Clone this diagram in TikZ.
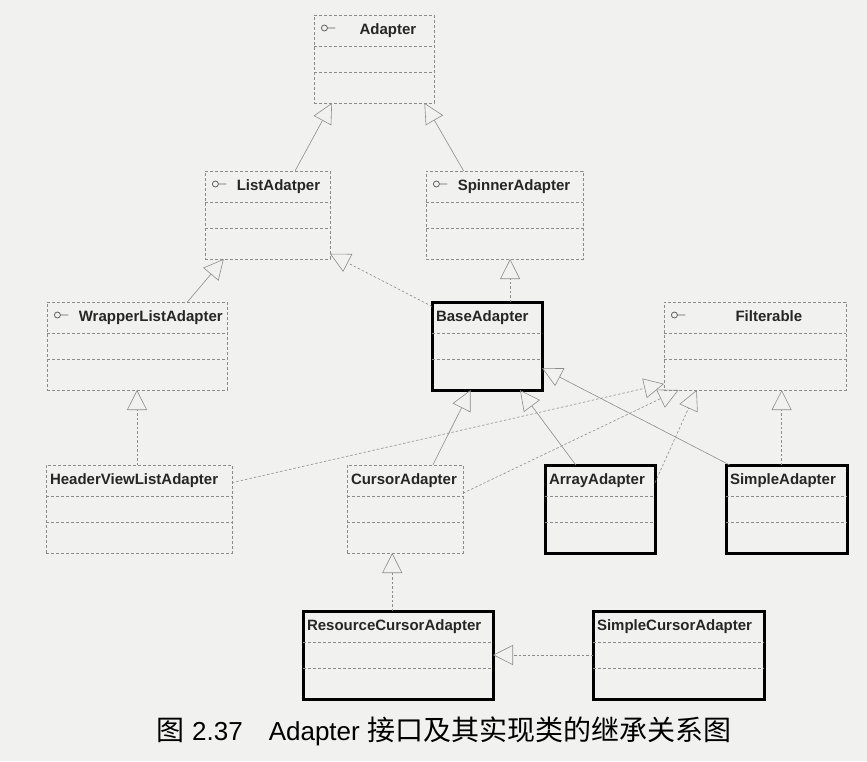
\documentclass[tikz,border=0pt]{standalone}
\usepackage{fontspec}
\setmainfont{Liberation Sans}
\newfontfamily\cjk{Noto Sans CJK SC}
\usetikzlibrary{arrows.meta,calc}
\definecolor{paper}{RGB}{241,241,239}
\definecolor{edge}{RGB}{140,140,140}
\newcommand{\iface}{\hspace{3pt}\tikz[baseline=0pt]\draw[solid,edge!70!black,line width=0.8pt] (0pt,6pt) circle (3pt) (3pt,6pt) -- (11pt,6pt);\hspace{10pt}}
\begin{document}
\begin{tikzpicture}[x=1pt,y=-1pt,
  box/.style={draw=edge,densely dashed,line width=0.6pt,anchor=north west,inner xsep=4pt,inner ysep=0pt,outer sep=0pt,
    text height=19pt,text depth=69pt,align=left,font=\bfseries\fontsize{15}{18}\selectfont,text=black!85},
  cls/.style={box,draw=black,solid,line width=3pt},
  extends/.style={draw=edge,line width=0.6pt,-{Triangle[open,length=20pt,width=20pt]}},
  implements/.style={extends,dash pattern=on 2.5pt off 2pt}]
  \fill[paper] (0,0) rectangle (867,761);
  \node[box,text width=112pt] (adapter) at (314,15) {\iface\hfill Adapter\hfill\null};
  \node[box,text width=117pt] (list) at (205,171) {\iface ListAdatper};
  \node[box,text width=149pt] (spinner) at (426,171) {\iface SpinnerAdapter};
  \node[box,text width=172pt] (wrapper) at (47,302) {\iface WrapperListAdapter};
  \node[cls,text width=102pt] (base) at (432,302) {BaseAdapter};
  \node[box,text width=174pt] (filterable) at (664,302) {\iface\hfill Filterable\hfill\null};
  \node[box,text width=178pt] (header) at (46,465) {HeaderViewListAdapter};
  \node[box,text width=108pt] (cursor) at (347,465) {CursorAdapter};
  \node[cls,text width=102pt] (array) at (545,465) {ArrayAdapter};
  \node[cls,text width=113pt] (simple) at (726,465) {SimpleAdapter};
  \node[cls,text width=182pt] (resource) at (303,611) {ResourceCursorAdapter};
  \node[cls,text width=163pt] (simplecursor) at (593,611) {SimpleCursorAdapter};
  \foreach \n in {adapter,list,spinner,wrapper,base,filterable,header,cursor,array,simple,resource,simplecursor}
  \foreach \f in {0.35,0.65}
  \draw[edge,densely dashed,line width=0.6pt] ($(\n.north west)!\f!(\n.south west)$) -- ($(\n.north east)!\f!(\n.south east)$);
  % inheritance
  \draw[extends] ($(list.north west)!0.72!(list.north east)$) -- ($(adapter.south west)!0.15!(adapter.south east)$);
  \draw[extends] ($(spinner.north west)!0.24!(spinner.north east)$) -- ($(adapter.south west)!0.92!(adapter.south east)$);
  \draw[extends] ($(wrapper.north west)!0.78!(wrapper.north east)$) -- ($(list.south west)!0.15!(list.south east)$);
  \draw[implements] ($(base.north west)!0.05!(base.south west)$) -- ($(list.north east)!0.94!(list.south east)$);
  \draw[implements] ($(base.north west)!0.71!(base.north east)$) coordinate (b1) -- (b1 |- spinner.south);
  \draw[implements] (header.north -| wrapper.south) -- (wrapper.south);
  \draw[implements] ($(header.north east)!0.2!(header.south east)$) -- ($(filterable.north west)!0.93!(filterable.south west)$);
  \draw[extends] ($(cursor.north west)!0.74!(cursor.north east)$) -- ($(base.south west)!0.35!(base.south east)$);
  \draw[implements] ($(cursor.north east)!0.32!(cursor.south east)$) -- ($(filterable.south west)!0.08!(filterable.south east)$);
  \draw[extends] ($(array.north west)!0.28!(array.north east)$) -- ($(base.south west)!0.8!(base.south east)$);
  \draw[implements] ($(array.north east)!0.2!(array.south east)$) -- ($(filterable.south west)!0.18!(filterable.south east)$);
  \draw[extends] ($(simple.north west)!0.03!(simple.north east)$) -- ($(base.north east)!0.75!(base.south east)$);
  \draw[implements] ($(simple.north west)!0.46!(simple.north east)$) coordinate (s1) -- (s1 |- filterable.south);
  \path ($(cursor.south west)!0.39!(cursor.south east)$) coordinate (c1);
  \draw[implements] (c1 |- resource.north) -- (c1);
  \draw[implements] (simplecursor.west) -- (resource.east);
  \node[anchor=base,font=\fontsize{26}{30}\selectfont] (caption) at (444,740)
    {{\cjk\fontsize{28}{30}\selectfont 图} 2.37\hspace{1em}Adapter {\cjk\fontsize{28}{30}\selectfont 接口及其实现类的继承关系图}};
\end{tikzpicture}
\end{document}
